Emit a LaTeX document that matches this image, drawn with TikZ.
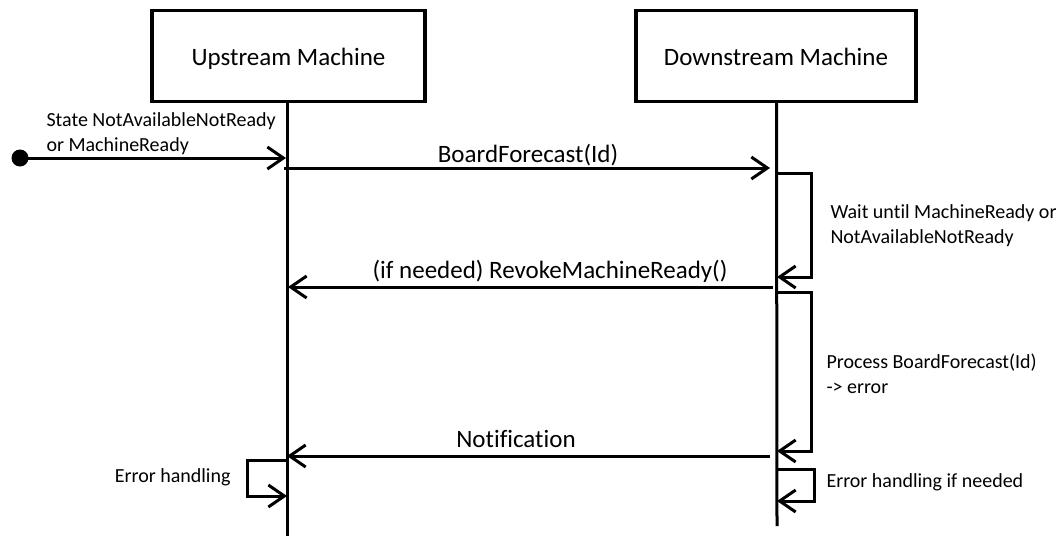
\documentclass[tikz,border=0pt]{standalone}
\usepackage{fontspec}
\setmainfont{Carlito}[Ligatures=NoCommon]
\usetikzlibrary{arrows.meta}
\begin{document}
\begin{tikzpicture}[x=1pt,y=-1pt,
  line width=3pt,
  actor/.style={draw, line width=3.2pt, minimum width=273pt, minimum height=91pt, inner sep=0pt},
  life/.style={line width=3pt},
  msg/.style={line width=3pt, -{Straight Barb[length=16pt,width=22pt,line width=3pt]}},
  big/.style={font=\fontsize{25}{30}\selectfont, inner sep=0pt},
  small/.style={font=\fontsize{20}{25}\selectfont, inner sep=0pt, align=left}
]
\useasboundingbox (0,0) rectangle (1062,536);
% actors
\node[actor] (up) at (288.5,56) {};
\node[actor, minimum width=280pt] (down) at (776,56) {};
\node[big, anchor=base] (uplbl) at (288.5,65) {Upstream Machine};
\node[big, anchor=base] (downlbl) at (776,65) {Downstream Machine};
% lifelines
\coordinate (upend) at (287,536);
\coordinate (downend) at (777,526);
\draw[life] (287,101.5) -- (upend);
\draw[life] (776.5,101.5) -- (downend);
% start
\node[circle, fill, inner sep=0pt, minimum size=17pt] (start) at (20,158) {};
\coordinate (u0) at (286,158);
\draw[msg] (start.center) -- (u0);
\node[small, anchor=west] (statelbl) at (45,134) {State NotAvailableNotReady\\or MachineReady};
% BoardForecast
\coordinate (u1) at (284,168);
\coordinate (d1) at (770,168);
\draw[msg] (u1) -- (d1);
\node[big, anchor=base] (bflbl) at (528,162) {BoardForecast(Id)};
% wait loop
\coordinate (w1) at (777,173);
\coordinate (w2) at (777,277);
\draw[msg] (w1) -- (811,173) -- (811,277) -- (w2);
\node[small, anchor=west] (waitlbl) at (829,225.5) {Wait until MachineReady or\\NotAvailableNotReady};
% Revoke
\coordinate (d2) at (773,287);
\coordinate (u2) at (288,287);
\draw[msg] (d2) -- (u2);
\node[big, anchor=base] (revlbl) at (550,278) {(if needed) RevokeMachineReady()};
% process loop
\coordinate (p1) at (777,292);
\coordinate (p2) at (777,451);
\draw[msg] (p1) -- (811,292) -- (811,451) -- (p2);
\node[small, anchor=west] (proclbl) at (825,373.5) {Process BoardForecast(Id)\\-> error};
% Notification
\coordinate (d3) at (770,456);
\coordinate (u3) at (287,456);
\draw[msg] (d3) -- (u3);
\node[big, anchor=base] (notlbl) at (516,447) {Notification};
% error handling downstream
\coordinate (e1) at (777,469);
\coordinate (e2) at (777,501);
\draw[msg] (e1) -- (814,469) -- (814,501) -- (e2);
\node[small, anchor=west] (errdlbl) at (825,482) {Error handling if needed};
% error handling upstream
\coordinate (f1) at (287,460);
\coordinate (f2) at (287,496);
\draw[msg] (f1) -- (247,460) -- (247,496) -- (f2);
\node[small, anchor=east] (errulbl) at (232,477) {Error handling};
\end{tikzpicture}
\end{document}
